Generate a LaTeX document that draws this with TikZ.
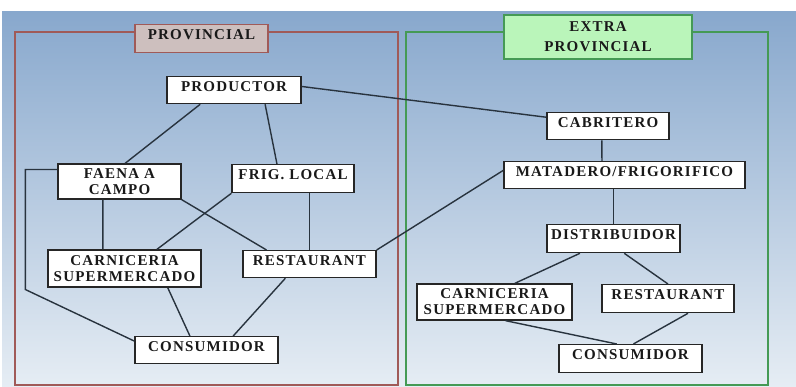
\documentclass[tikz,border=0pt]{standalone}
\usepackage{fontspec}
\newfontfamily\cajafont[LetterSpace=8]{Liberation Serif}
\usetikzlibrary{calc}

\definecolor{fondoarriba}{HTML}{88A8CD}
\definecolor{fondoabajo}{HTML}{E6EDF4}
\definecolor{marcoprov}{HTML}{A05A58}
\definecolor{marcoextra}{HTML}{459A55}
\definecolor{tituloprov}{HTML}{CDBFBE}
\definecolor{tituloextra}{HTML}{BAF5BA}
\definecolor{linea}{HTML}{28333E}

\tikzset{
    caja/.style={draw=black!85, fill=white, line width=1.3pt, text=black!90,
        font=\cajafont\bfseries\fontsize{15}{16}\selectfont, inner xsep=2pt},
    caja1/.style={caja, anchor=north, inner ysep=4pt, text height=10.5pt, text depth=8.5pt},
    caja2/.style={caja, align=center, inner ysep=2pt},
    enlace/.style={draw=linea, line width=1.4pt},
}

\begin{document}
\begin{tikzpicture}[x=1pt,y=-1pt]
        \useasboundingbox (0,0) rectangle (796,387);
        \fill[white] (0,0) rectangle (796,387);
        \shade[top color=fondoarriba, bottom color=fondoabajo] (2,12) rectangle (796,387);

        % marcos
        \draw[marcoprov, line width=1.3pt] (15,32) rectangle (398,385);
        \draw[marcoextra, line width=1.3pt] (406,32) rectangle (768,385);
        \node[caja1, fill=tituloprov, draw=marcoprov, minimum width=133pt, text depth=9.5pt] (tprov) at (201.5,24) {PROVINCIAL};
        \node[caja2, fill=tituloextra, draw=marcoextra, minimum width=188pt, minimum height=44pt,
            font=\cajafont\bfseries\fontsize{15}{20}\selectfont] (textra) at (598,37) {EXTRA\\PROVINCIAL};

        % provincial
        \node[caja1, minimum width=134pt] (prod) at (234,76) {PRODUCTOR};
        \node[caja2, minimum width=123pt, minimum height=35pt] (faena) at (119.5,181.5) {FAENA A\\CAMPO};
        \node[caja1, minimum width=122pt, text depth=9.5pt] (frig) at (293,164) {FRIG. LOCAL};
        \node[caja2, minimum width=153pt, minimum height=37pt] (carnL) at (124.5,268.5) {CARNICERIA\\SUPERMERCADO};
        \node[caja1, minimum width=133pt] (restL) at (309.5,250) {RESTAURANT};
        \node[caja1, minimum width=143pt] (consL) at (206.5,336) {CONSUMIDOR};

        % extra provincial
        \node[caja1, minimum width=122pt] (cabr) at (608,112) {CABRITERO};
        \node[caja1, minimum width=241pt] (mata) at (624.5,161) {MATADERO/FRIGORIFICO};
        \node[caja1, minimum width=133pt, text depth=9.5pt] (dist) at (613.5,224) {DISTRIBUIDOR};
        \node[caja2, minimum width=155pt, minimum height=36pt] (carnR) at (494.5,302) {CARNICERIA\\SUPERMERCADO};
        \node[caja1, minimum width=132pt, text depth=9.5pt] (restR) at (668,284) {RESTAURANT};
        \node[caja1, minimum width=143pt, text depth=9.5pt] (consR) at (630.5,344) {CONSUMIDOR};

        % enlaces
        \draw[enlace] ($(prod.south west)!.25!(prod.south east)$) -- ($(faena.north west)!.545!(faena.north east)$);
        \draw[enlace] ($(prod.south west)!.73!(prod.south east)$) -- ($(frig.north west)!.37!(frig.north east)$);
        \draw[enlace] ($(prod.north east)!.37!(prod.south east)$) -- ($(cabr.north west)!.185!(cabr.south west)$);
        \draw[enlace] ($(faena.north west)!.17!(faena.south west)$) -- ++(-32,0) -- ++(0,120)
            -- ($(consL.north west)!.18!(consL.south west)$);
        \draw[enlace] ($(faena.south west)!.366!(faena.south east)$) -- ($(carnL.north west)!.36!(carnL.north east)$);
        \draw[enlace] (faena.south east) -- ($(restL.north west)!.18!(restL.north east)$);
        \draw[enlace] (frig.south west) -- ($(carnL.north west)!.71!(carnL.north east)$);
        \draw[enlace] (frig.south -| restL.north) -- (restL.north);
        \draw[enlace] (restL.north east) -- ($(mata.north west)!.33!(mata.south west)$);
        \draw[enlace] ($(carnL.south west)!.78!(carnL.south east)$) -- ($(consL.north west)!.385!(consL.north east)$);
        \draw[enlace] ($(restL.south west)!.32!(restL.south east)$) -- ($(consL.north west)!.685!(consL.north east)$);

        \draw[enlace] ($(cabr.south west)!.45!(cabr.south east)$) -- ($(mata.north west)!.407!(mata.north east)$);
        \draw[enlace] (mata.south -| dist.north) -- (dist.north);
        \draw[enlace] ($(dist.south west)!.25!(dist.south east)$) -- ($(carnR.north west)!.63!(carnR.north east)$);
        \draw[enlace] ($(dist.south west)!.58!(dist.south east)$) -- (restR.north);
        \draw[enlace] ($(carnR.south west)!.57!(carnR.south east)$) -- ($(consR.north west)!.405!(consR.north east)$);
        \draw[enlace] ($(restR.south west)!.65!(restR.south east)$) -- ($(consR.north west)!.52!(consR.north east)$);

    \end{tikzpicture}
\end{document}
